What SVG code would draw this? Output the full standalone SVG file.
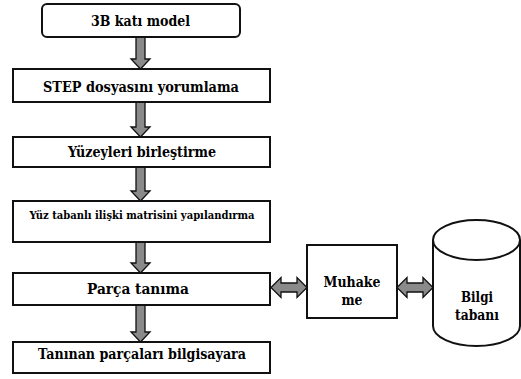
<svg xmlns="http://www.w3.org/2000/svg" width="521" height="379" viewBox="0 0 521 379">
<style>
.box{fill:#fff;stroke:#111;stroke-width:2}
.arr{fill:#8a8a8a;stroke:#111;stroke-width:1.3;stroke-linejoin:miter}
text{font-family:'DejaVu Serif','Liberation Serif',serif;font-weight:bold;fill:#000;text-anchor:middle}
.f15{font-size:14px}
.f12{font-size:11.5px}
</style>
<rect width="521" height="379" fill="#fff"/>
<g id="connectors">
<polygon class="arr" points="136,37 145,37 145,59 150,59 140.5,69 131,59 136,59"/>
<polygon class="arr" points="136,102 145,102 145,127 150,127 140.5,137 131,127 136,127"/>
<polygon class="arr" points="136,167 145,167 145,191 150,191 140.5,201 131,191 136,191"/>
<polygon class="arr" points="136,242 145,242 145,263 150,263 140.5,273 131,263 136,263"/>
<polygon class="arr" points="136,305 145,305 145,332 150,332 140.5,342 131,332 136,332"/>
<polygon class="arr" points="271,287.5 281,277.5 281,283 297,283 297,277.5 307,287.5 297,297.5 297,292 281,292 281,297.5"/>
<polygon class="arr" points="397,287.5 407,277.5 407,283 423,283 423,277.5 433,287.5 423,297.5 423,292 407,292 407,297.5"/>
</g>
<g id="n1"><rect class="box" x="42" y="4" width="198" height="33" rx="5"/><text class="f15" x="140.5" y="26" textLength="99" lengthAdjust="spacingAndGlyphs">3B katı model</text></g>
<g id="n2"><rect class="box" x="13" y="69" width="257" height="33"/><text class="f15" x="141" y="92" textLength="196" lengthAdjust="spacingAndGlyphs">STEP dosyasını yorumlama</text></g>
<g id="n3"><rect class="box" x="13" y="137" width="257" height="30"/><text class="f15" x="142" y="157" textLength="148" lengthAdjust="spacingAndGlyphs">Yüzeyleri birleştirme</text></g>
<g id="n4"><rect class="box" x="13" y="201" width="257" height="41"/><text class="f12" x="142" y="219" textLength="225" lengthAdjust="spacingAndGlyphs">Yüz tabanlı ilişki matrisini yapılandırma</text></g>
<g id="n5"><rect class="box" x="13" y="273" width="257" height="32"/><text class="f15" x="138" y="294" textLength="102" lengthAdjust="spacingAndGlyphs">Parça tanıma</text></g>
<g id="n6"><rect class="box" x="13" y="342" width="257" height="31"/><text class="f15" x="142" y="359" textLength="208" lengthAdjust="spacingAndGlyphs">Tanınan parçaları bilgisayara</text></g>
<g id="n7"><rect class="box" x="307" y="245" width="90" height="73"/><text class="f15" x="352" y="287" textLength="57" lengthAdjust="spacingAndGlyphs">Muhake</text><text class="f15" x="352" y="305" textLength="21" lengthAdjust="spacingAndGlyphs">me</text></g>
<g id="n8">
<path class="box" d="M433,240 L433,326 A43.5,20 0 0 0 520,326 L520,240"/>
<ellipse class="box" cx="476.5" cy="240" rx="43.5" ry="20"/>
<text class="f15" x="477" y="302" textLength="32" lengthAdjust="spacingAndGlyphs">Bilgi</text><text class="f15" x="477" y="320" textLength="44" lengthAdjust="spacingAndGlyphs">tabanı</text>
</g>
</svg>
